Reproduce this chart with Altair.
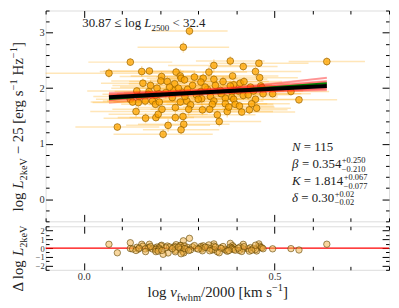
import altair as alt
import pandas as pd

# ---------------- data ----------------
x_vel = [0.277, 0.261, 0.122, 0.384, 0.459, 0.637, 0.341, 0.418, 0.066, 0.152,
         0.172, 0.242, 0.253, 0.255, 0.204, 0.328, 0.390, 0.341, 0.313, 0.461,
         0.155, 0.202, 0.219, 0.238, 0.264, 0.307, 0.393, 0.410, 0.384, 0.437,
         0.464, 0.467, 0.192, 0.171, 0.139, 0.188, 0.197, 0.169, 0.236, 0.257,
         0.272, 0.324, 0.358, 0.388, 0.418, 0.431, 0.307, 0.332, 0.388, 0.543,
         0.122, 0.143, 0.128, 0.161, 0.180, 0.188, 0.198, 0.240, 0.253, 0.270,
         0.309, 0.341, 0.371, 0.393, 0.564, 0.337, 0.371, 0.397, 0.408, 0.137,
         0.162, 0.189, 0.195, 0.240, 0.260, 0.311, 0.350, 0.376, 0.414, 0.434,
         0.453, 0.221, 0.262, 0.255, 0.208, 0.088, 0.495, 0.285, 0.295, 0.280,
         0.290, 0.300, 0.225, 0.215, 0.232, 0.345, 0.365, 0.360, 0.420, 0.445,
         0.450, 0.470, 0.405, 0.318, 0.265, 0.275, 0.205, 0.145, 0.175, 0.248,
         0.330, 0.380, 0.440, 0.355, 0.450]
y_lum = [3.03, 2.74, 2.47, 2.49, 2.45, 2.48, 2.41, 2.39, 2.27, 2.30,
         2.31, 2.29, 2.22, 2.18, 2.21, 2.29, 2.22, 2.16, 2.18, 2.19,
         2.09, 2.13, 2.12, 2.08, 2.15, 2.11, 2.06, 2.09, 2.04, 2.02,
         2.04, 2.01, 2.00, 1.94, 1.95, 1.87, 1.90, 1.89, 1.96, 1.93,
         1.98, 1.98, 1.96, 1.94, 1.87, 1.88, 1.94, 1.85, 1.84, 1.94,
         1.80, 1.74, 1.75, 1.77, 1.77, 1.71, 1.75, 1.65, 1.75, 1.77,
         1.81, 1.77, 1.82, 1.80, 1.79, 1.71, 1.72, 1.71, 1.68, 1.58,
         1.46, 1.47, 1.53, 1.47, 1.49, 1.61, 1.52, 1.58, 1.57, 1.61,
         1.64, 1.33, 1.35, 1.25, 1.17, 1.30, 1.90, 2.05, 1.88, 1.70,
         2.20, 1.80, 2.02, 1.92, 1.83, 2.05, 2.12, 1.90, 2.12, 1.95,
         1.80, 1.90, 1.95, 2.02, 1.85, 1.62, 1.62, 1.85, 2.05, 2.00,
         1.62, 1.66, 1.72, 1.40, 2.30]
x_err = [0.10, 0.12, 0.11, 0.09, 0.13, 0.10, 0.12, 0.09, 0.17, 0.11,
         0.12, 0.10, 0.13, 0.09, 0.11, 0.10, 0.12, 0.14, 0.09, 0.10,
         0.11, 0.13, 0.10, 0.12, 0.09, 0.11, 0.10, 0.13, 0.12, 0.08,
         0.10, 0.11, 0.12, 0.09, 0.13, 0.10, 0.11, 0.12, 0.09, 0.10,
         0.11, 0.13, 0.10, 0.12, 0.09, 0.11, 0.14, 0.10, 0.12, 0.10,
         0.09, 0.12, 0.11, 0.10, 0.13, 0.09, 0.12, 0.10, 0.11, 0.12,
         0.10, 0.13, 0.09, 0.11, 0.10, 0.12, 0.11, 0.10, 0.09, 0.12,
         0.11, 0.10, 0.13, 0.12, 0.09, 0.11, 0.10, 0.12, 0.14, 0.10,
         0.09, 0.11, 0.12, 0.10, 0.13, 0.11, 0.10, 0.12, 0.09, 0.11,
         0.10, 0.12, 0.13, 0.11, 0.10, 0.09, 0.12, 0.11, 0.10, 0.13,
         0.11, 0.10, 0.12, 0.09, 0.11, 0.10, 0.13, 0.12, 0.10, 0.11,
         0.09, 0.12, 0.10, 0.11, 0.12]
y_err = [0.08, 0.10, 0.07, 0.09, 0.06, 0.08, 0.11, 0.07, 0.09, 0.10,
         0.06, 0.08, 0.12, 0.07, 0.09, 0.10, 0.06, 0.08, 0.11, 0.07,
         0.09, 0.08, 0.10, 0.06, 0.07, 0.12, 0.09, 0.08, 0.10, 0.06,
         0.07, 0.11, 0.09, 0.08, 0.06, 0.13, 0.07, 0.09, 0.10, 0.08,
         0.06, 0.09, 0.07, 0.11, 0.08, 0.10, 0.06, 0.09, 0.12, 0.07,
         0.08, 0.10, 0.06, 0.09, 0.11, 0.07, 0.08, 0.10, 0.06, 0.09,
         0.12, 0.07, 0.08, 0.10, 0.06, 0.09, 0.11, 0.07, 0.08, 0.10,
         0.09, 0.06, 0.12, 0.08, 0.07, 0.10, 0.09, 0.11, 0.06, 0.08,
         0.07, 0.12, 0.10, 0.08, 0.09, 0.06, 0.07, 0.11, 0.08, 0.10,
         0.09, 0.06, 0.08, 0.12, 0.07, 0.10, 0.09, 0.06, 0.08, 0.11,
         0.07, 0.09, 0.10, 0.06, 0.08, 0.12, 0.07, 0.09, 0.10, 0.08,
         0.06, 0.11, 0.07, 0.09, 0.10]

K_fit, beta_fit = 1.814, 0.354          # black best-fit line
K_green, beta_green = 1.77, 0.50        # green line
sample_beta = [0.10, 0.18, 0.25, 0.30, 0.35, 0.40, 0.45, 0.52, 0.60, 0.70,
               0.80, 0.22, 0.38, 0.48, 0.33, 0.28]
sample_K = [1.910, 1.846, 1.875, 1.800, 1.815, 1.840, 1.765, 1.784, 1.740, 1.740,
            1.680, 1.854, 1.766, 1.826, 1.841, 1.886]

x_major = [0.0, 0.5]
x_minor = [-0.1, 0.1, 0.2, 0.3, 0.4, 0.6, 0.7, 0.8]
y_major = [0, 1, 2, 3]
y_minor = [-0.4, -0.2, 0.2, 0.4, 0.6, 0.8, 1.2, 1.4, 1.6, 1.8, 2.2, 2.4, 2.6, 2.8, 3.2, 3.4]
r_major = [-2, -1, 0, 1, 2]
r_minor = [-2.5, -1.5, -0.5, 0.5, 1.5, 2.5]

# ---------------- tables ----------------
df = pd.DataFrame({"x": x_vel, "y": y_lum, "xerr": x_err, "yerr": y_err})
df["x_lo"] = df["x"] - df["xerr"]
df["x_hi"] = df["x"] + df["xerr"]
df["y_lo"] = df["y"] - df["yerr"]
df["y_hi"] = df["y"] + df["yerr"]
df["resid"] = df["y"] - (K_fit + beta_fit * df["x"])

xa, xb = min(x_vel), max(x_vel)
samp = pd.DataFrame([{"s": i, "x": xx, "y": k + b * xx}
                     for i, (b, k) in enumerate(zip(sample_beta, sample_K)) for xx in (xa, xb)])
fit = pd.DataFrame({"x": [xa, xb], "y": [K_fit + beta_fit * xa, K_fit + beta_fit * xb]})
gfit = pd.DataFrame({"x": [xa, xb], "y": [K_green + beta_green * xa, K_green + beta_green * xb]})
one = pd.DataFrame({"a": [0]})

FONT = "Liberation Serif"
W, H1, H2 = 347, 213, 44

xs = alt.Scale(domain=[-0.1, 0.8], nice=False, zero=False)
ys = alt.Scale(domain=[-0.4, 3.4], nice=False, zero=False)
rs = alt.Scale(domain=[-2.5, 2.5], nice=False, zero=False)


def axis(orient, values, size, labels=False, lsize=10.5, fmt=None):
    kw = dict(orient=orient, values=values, tickSize=size, offset=-size, domain=False,
              grid=False, title=None, labels=labels, tickColor="black", tickWidth=1)
    if labels:
        kw.update(labelFont=FONT, labelFontSize=lsize, labelColor="#333", labelPadding=1.5)
        if fmt:
            kw["format"] = fmt
    return alt.Axis(**kw)


def axes_layers(xf, yf, xsc, ysc, xmaj, xmin, ymaj, ymin, xlab, ylsize):
    specs = [("bottom", "left", xmaj, ymaj, 7, True),
             ("bottom", "left", xmin, ymin, 3.5, False),
             ("top", "right", xmaj, ymaj, 7, False),
             ("top", "right", xmin, ymin, 3.5, False)]
    out = []
    for xo, yo, xv, yv, sz, lab in specs:
        out.append(alt.Chart(df).mark_point(opacity=0).encode(
            x=alt.X(f"{xf}:Q", scale=xsc, axis=axis(xo, xv, sz, labels=lab and xlab, fmt=".1f")),
            y=alt.Y(f"{yf}:Q", scale=ysc, axis=axis(yo, yv, sz, labels=lab, lsize=ylsize))))
    return out


REG = {' ': 250, '.': 250, 'l': 278, 'o': 500, 'g': 500, 'k': 500, 'e': 444, 'V': 722,
       'f': 333, 'w': 722, 'h': 500, 'm': 778, '/': 278, '[': 333, ']': 333, 's': 389,
       'r': 333, 'z': 444, 'H': 722, '=': 564, '+': 564, '\u2212': 564, '<': 564,
       '\u2264': 549, '\u0394': 612}
ITA = {'L': 556, 'v': 444, 'K': 667, 'N': 667, '\u03b2': 520, '\u03b4': 460}


def width(s, size, italic=False):
    tab = ITA if italic else REG
    return sum(tab.get(c, REG.get(c, 500)) for c in s) * size / 1000.0


def t(s, x, y, size, italic=False, angle=0):
    return alt.Chart(one).mark_text(
        text=s, font=FONT, fontSize=size, fontStyle="italic" if italic else "normal",
        angle=angle, align="left", baseline="alphabetic", color="#222"
    ).encode(x=alt.value(x), y=alt.value(y))


def _style(kind, size, sub):
    fs = sub if kind in ("sub", "sup") else size
    d = 0.3 * size if kind == "sub" else (-0.4 * size if kind == "sup" else 0)
    return fs, d, kind == "i"


def hrun(pieces, x, y, size, sub):
    out = []
    for s, kind in pieces:
        fs, dy, it = _style(kind, size, sub)
        lead = width(s[:len(s) - len(s.lstrip())], fs)
        out.append(t(s.strip(), x + lead, y + dy, fs, it))
        x += width(s, fs, it)
    return out, x


def vrun(pieces, xb, y, size, sub):
    out = []
    for s, kind in pieces:
        fs, dx, it = _style(kind, size, sub)
        lead = width(s[:len(s) - len(s.lstrip())], fs)
        out.append(t(s.strip(), xb + dx, y - lead, fs, it, angle=270))
        y -= width(s, fs, it)
    return out


# ---------------- main panel ----------------
herr = alt.Chart(df).mark_rule(color="#FFA500", opacity=0.28, strokeWidth=1.5, clip=True).encode(
    x=alt.X("x_lo:Q", scale=xs, axis=None), x2="x_hi:Q", y=alt.Y("y:Q", scale=ys, axis=None))
verr = alt.Chart(df).mark_rule(color="#FFA500", opacity=0.28, strokeWidth=1.5, clip=True).encode(
    x=alt.X("x:Q", scale=xs, axis=None), y=alt.Y("y_lo:Q", scale=ys, axis=None), y2="y_hi:Q")
pts = alt.Chart(df).mark_circle(size=46, fill="#FFA500", fillOpacity=0.75, stroke="#9a6400",
                                strokeWidth=0.8, strokeOpacity=0.9).encode(
    x=alt.X("x:Q", scale=xs, axis=None), y=alt.Y("y:Q", scale=ys, axis=None))
samples = alt.Chart(samp).mark_line(color="#FF2020", opacity=0.28, strokeWidth=2, clip=True).encode(
    x=alt.X("x:Q", scale=xs, axis=None), y=alt.Y("y:Q", scale=ys, axis=None), detail="s:N")
green = alt.Chart(gfit).mark_line(color="green", strokeWidth=2, clip=True).encode(
    x=alt.X("x:Q", scale=xs, axis=None), y=alt.Y("y:Q", scale=ys, axis=None))
black = alt.Chart(fit).mark_line(color="black", strokeWidth=4, clip=True).encode(
    x=alt.X("x:Q", scale=xs, axis=None), y=alt.Y("y:Q", scale=ys, axis=None))

texts = []
a, _ = hrun([("30.87 \u2264 log ", "n"), ("L", "i"), ("2500", "sub"), (" < 32.4", "n")], 37, 17, 13, 9)
texts += a
a, _ = hrun([("N", "i"), (" = 115", "n")], 249, 142, 13, 9)
texts += a
for sym, val, up, dn, yb in [("\u03b2", " = 0.354", "+0.250", "\u22120.210", 159),
                             ("K", " = 1.814", "+0.067", "\u22120.077", 176),
                             ("\u03b4", " = 0.30", "+0.02", "\u22120.02", 193)]:
    a, xe = hrun([(sym, "i"), (val, "n")], 249, yb, 13, 9)
    texts += a
    texts.append(t(up, xe + 0.5, yb - 5, 8.5))
    texts.append(t(dn, xe + 0.5, yb + 4, 8.5))
texts += vrun([("log ", "n"), ("L", "i"), ("2keV", "sub"), (" \u2212 25 [erg s", "n"), ("\u22121", "sup"),
               (" Hz", "n"), ("\u22121", "sup"), ("]", "n")], -23, 203, 15, 10.5)

main = alt.layer(
    *axes_layers("x", "y", xs, ys, x_major, x_minor, y_major, y_minor, False, 10.5),
    herr, verr, pts, samples, green, black, *texts
).resolve_axis(x="independent", y="independent").properties(width=W, height=H1)

# ---------------- residual panel ----------------
zero = alt.Chart(one).mark_rule(color="red", strokeWidth=1.3).encode(y=alt.Y(datum=0, scale=rs, axis=None))
rpts = alt.Chart(df).mark_circle(size=42, fill="#F2B040", fillOpacity=0.5, stroke="#5a4000",
                                 strokeWidth=0.8, strokeOpacity=0.75).encode(
    x=alt.X("x:Q", scale=xs, axis=None), y=alt.Y("resid:Q", scale=rs, axis=None))
rtexts = vrun([("\u0394 log ", "n"), ("L", "i"), ("2keV", "sub")], -23, 66, 15, 10.5)
a, _ = hrun([("log ", "n"), ("v", "i"), ("fwhm", "sub"), ("/2000 [km s", "n"), ("\u22121", "sup"), ("]", "n")],
            103, 71.5, 15, 10.5)
rtexts += a

resid = alt.layer(
    *axes_layers("x", "resid", xs, rs, x_major, x_minor, r_major, r_minor, True, 8.5),
    zero, rpts, *rtexts
).resolve_axis(x="independent", y="independent").properties(width=W, height=H2)

chart = alt.vconcat(main, resid, spacing=2).properties(
    padding={"left": 0, "top": 0, "right": 0, "bottom": 0}
).configure_view(stroke="black", strokeWidth=1.2).configure(background="white")

chart.save("out.html", embed_options={"renderer": "svg", "actions": False})
